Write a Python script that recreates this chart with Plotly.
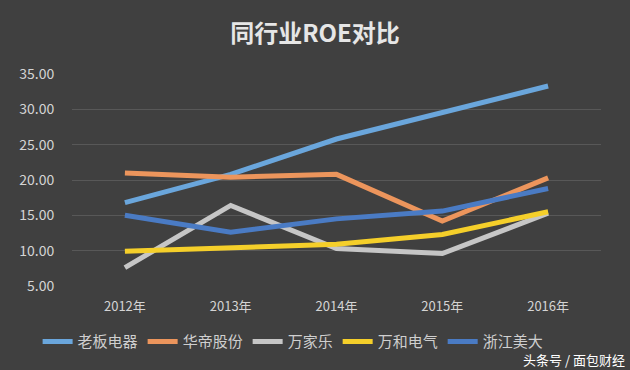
import plotly.graph_objects as go

years = ["2012年", "2013年", "2014年", "2015年", "2016年"]
laoban = [16.8, 20.8, 25.8, 29.6, 33.3]
huadi = [21.0, 20.4, 20.8, 14.2, 20.3]
wanjiale = [7.6, 16.4, 10.3, 9.6, 15.3]
wanhe = [9.9, 10.4, 10.9, 12.3, 15.5]
zhejiang = [15.0, 12.6, 14.5, 15.6, 18.8]

series = [
    ("老板电器", laoban, "#6aa6dc"),
    ("华帝股份", huadi, "#ec955c"),
    ("万家乐", wanjiale, "#c6c6c6"),
    ("万和电气", wanhe, "#f5cf2a"),
    ("浙江美大", zhejiang, "#4a7bc4"),
]

fig = go.Figure()
for name, vals, col in series:
    fig.add_trace(go.Scatter(x=years, y=vals, name=name, mode="lines",
                             line=dict(color=col, width=5)))

font = "Noto Sans CJK SC"
fig.update_layout(
    width=630, height=370,
    margin=dict(l=72, r=29, t=74, b=84),
    paper_bgcolor="#404040", plot_bgcolor="rgba(0,0,0,0)",
    title=dict(text="<b>同行业ROE对比</b>", x=0.5, xanchor="center", y=0.91, yanchor="middle",
               font=dict(family=font, size=24, color="#e6e6e6")),
    xaxis=dict(showgrid=False, zeroline=False, showline=False,
               ticks="outside", ticklen=8, tickcolor="rgba(0,0,0,0)",
               tickfont=dict(family=font, size=13, color="#d4d4d4"), range=[-0.5, 4.5]),
    yaxis=dict(range=[5, 35], dtick=5, tickformat=".2f", showgrid=True,
               gridcolor="#585858", gridwidth=1, zeroline=False, showline=False,
               tickfont=dict(family=font, size=14, color="#d4d4d4"), ticklen=14,
               ticks="outside", tickcolor="rgba(0,0,0,0)"),
    legend=dict(orientation="h", x=-0.065, xanchor="left", y=-0.185, yanchor="top",
                font=dict(family=font, size=15, color="#cfcfcf"),
                bgcolor="rgba(0,0,0,0)", itemwidth=30, tracegroupgap=0),
    showlegend=True,
)
fig.add_annotation(text="头条号 / 面包财经", xref="paper", yref="paper", x=1.05, y=-0.345,
                   xanchor="right", yanchor="middle", showarrow=False,
                   font=dict(family=font, size=13, color="#ffffff"))
fig.write_html("out.html")
